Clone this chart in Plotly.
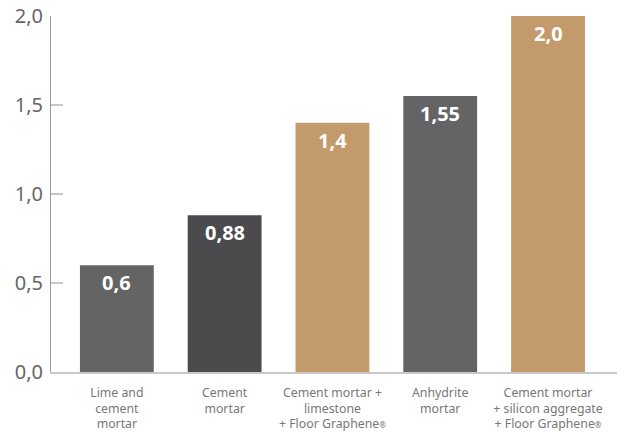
import plotly.graph_objects as go

REG = "<span style='font-size:8px'>®</span>"
categories = ["Lime and<br>cement<br>mortar", "Cement<br>mortar",
              "Cement mortar +<br>limestone<br>+ Floor Graphene" + REG,
              "Anhydrite<br>mortar",
              "Cement mortar<br>+ silicon aggregate<br>+ Floor Graphene" + REG]
values = [0.6, 0.88, 1.4, 1.55, 2.0]
value_labels = ["0,6", "0,88", "1,4", "1,55", "2,0"]
bar_colors = ["#646464", "#4b4b4d", "#c39a6b", "#646466", "#c39a6b"]
y_ticks = [0, 0.5, 1.0, 1.5, 2.0]
y_tick_labels = ["0,0", "0,5", "1,0", "1,5", "2,0"]

x_idx = list(range(len(categories)))

fig = go.Figure()
fig.add_trace(go.Bar(
    x=x_idx, y=values, marker=dict(color=bar_colors, line=dict(width=0)),
    width=0.685, hoverinfo="skip",
))

for xi, v, lab in zip(x_idx, values, value_labels):
    fig.add_annotation(x=xi, y=v, text="<b>" + lab + "</b>", showarrow=False,
                       yanchor="top", yshift=-2,
                       font=dict(family="Open Sans", size=20, color="white"))

fig.update_layout(
    width=622, height=432,
    margin=dict(l=51, r=5, t=16, b=60),
    paper_bgcolor="white", plot_bgcolor="white",
    showlegend=False,
    font=dict(family="Noto Sans", color="#666666"),
    xaxis=dict(
        range=[-0.611, 4.64], tickmode="array", tickvals=x_idx, ticktext=categories,
        showline=True, linecolor="#c8c8c8", linewidth=1.5, ticks="", showgrid=False,
        zeroline=False, tickfont=dict(size=12.3, color="#777777", family="Noto Sans"),
        ticklabelstandoff=8, automargin=False, fixedrange=True,
    ),
    yaxis=dict(
        range=[0, 2.0], tickmode="array", tickvals=y_ticks, ticktext=y_tick_labels,
        showline=True, linecolor="#9a9a9a", linewidth=1, ticks="inside", ticklen=12,
        tickcolor="#c8c8c8", tickwidth=1.5, showgrid=False, zeroline=False,
        tickfont=dict(size=20, color="#666666", family="Noto Sans"),
        ticklabelstandoff=3, automargin=False, fixedrange=True,
    ),
)

fig.write_html("out.html")
